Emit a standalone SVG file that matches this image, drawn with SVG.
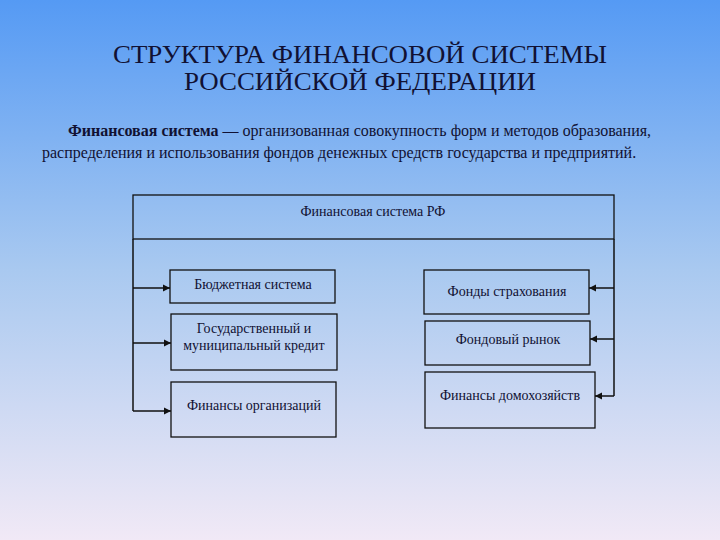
<svg xmlns="http://www.w3.org/2000/svg" width="720" height="540" viewBox="0 0 720 540">
<defs>
<linearGradient id="bg" x1="0" y1="0" x2="0" y2="1">
<stop offset="0" stop-color="#559af4"/>
<stop offset="0.5" stop-color="#a9c9f0"/>
<stop offset="1" stop-color="#f1e9f6"/>
</linearGradient>
<marker id="ah" markerWidth="8" markerHeight="8" refX="7" refY="4" orient="auto" markerUnits="userSpaceOnUse">
<path d="M0,0.5 L7,4 L0,7.5 z" fill="#111"/>
</marker>
<style>
.t{font-family:"Liberation Serif","Times New Roman",serif;fill:#111133}
.title{font-size:26px;text-anchor:middle}
.p{font-size:16px}
.n{font-size:14px;text-anchor:middle}
.box{fill:none;stroke:#111;stroke-width:1.3}
.c{fill:none;stroke:#111;stroke-width:1.5}
</style>
</defs>
<rect width="720" height="540" fill="url(#bg)"/>
<g id="title">
<text class="t title" x="360" y="63" textLength="494" lengthAdjust="spacingAndGlyphs">СТРУКТУРА ФИНАНСОВОЙ СИСТЕМЫ</text>
<text class="t title" x="360" y="90" textLength="352" lengthAdjust="spacingAndGlyphs">РОССИЙСКОЙ ФЕДЕРАЦИИ</text>
</g>
<g id="definition">
<text class="t p" x="68" y="136"><tspan font-weight="bold">Финансовая система</tspan> — организованная совокупность форм и методов образования,</text>
<text class="t p" x="42" y="158">распределения и использования фондов денежных средств государства и предприятий.</text>
</g>
<g id="root">
<rect class="box" x="133" y="195" width="481" height="44"/>
<text class="t n" x="373" y="216">Финансовая система РФ</text>
</g>
<g id="budget">
<rect class="box" x="170" y="270" width="165" height="33"/>
<text class="t n" x="253" y="289">Бюджетная система</text>
</g>
<g id="credit">
<rect class="box" x="171" y="314" width="166" height="56"/>
<text class="t n" x="254" y="333">Государственный и</text>
<text class="t n" x="254" y="350">муниципальный кредит</text>
</g>
<g id="orgs">
<rect class="box" x="171" y="382" width="165" height="55"/>
<text class="t n" x="254" y="410">Финансы организаций</text>
</g>
<g id="insurance">
<rect class="box" x="424" y="270" width="165" height="44"/>
<text class="t n" x="507" y="296">Фонды страхования</text>
</g>
<g id="stock">
<rect class="box" x="425" y="321" width="165" height="44"/>
<text class="t n" x="508" y="344">Фондовый рынок</text>
</g>
<g id="households">
<rect class="box" x="425" y="372" width="170" height="56"/>
<text class="t n" x="510" y="400">Финансы домохозяйств</text>
</g>
<g id="connectors">
<path class="c" d="M133,239 V411"/>
<path class="c" d="M614,239 V396"/>
<path class="c" d="M133,288 H170" marker-end="url(#ah)"/>
<path class="c" d="M133,343 H171" marker-end="url(#ah)"/>
<path class="c" d="M133,411 H171" marker-end="url(#ah)"/>
<path class="c" d="M614,288 H589" marker-end="url(#ah)"/>
<path class="c" d="M614,339 H590" marker-end="url(#ah)"/>
<path class="c" d="M614,396 H595" marker-end="url(#ah)"/>
</g>
</svg>
